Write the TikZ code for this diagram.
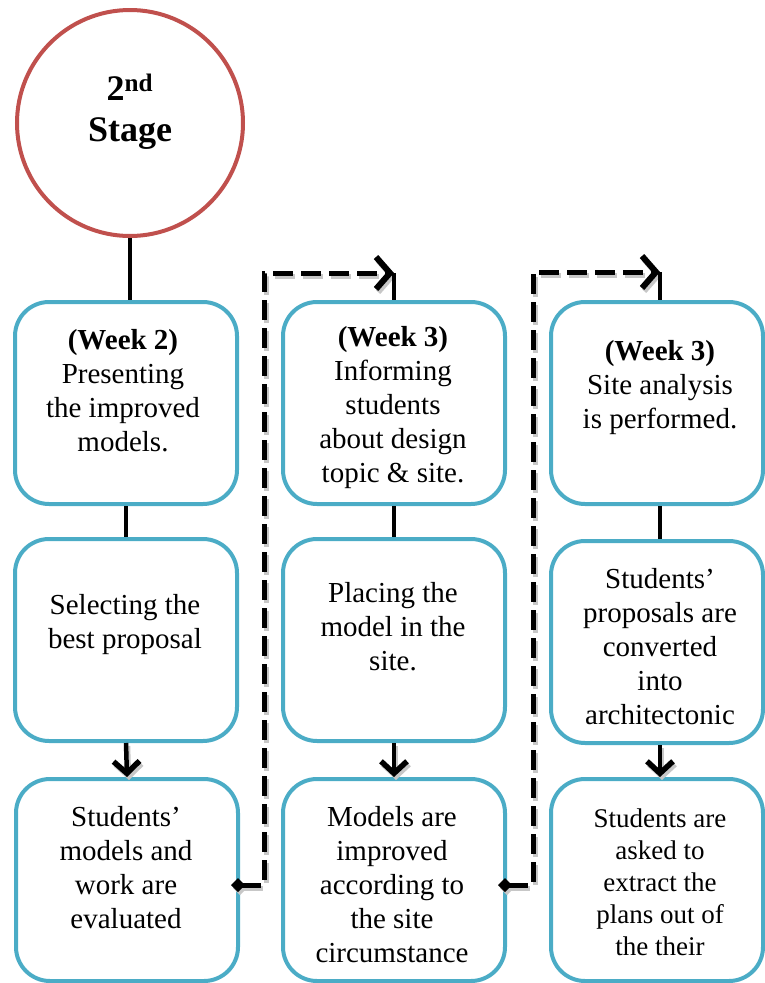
\documentclass[tikz,border=0pt]{standalone}
\usepackage{fontspec}
\setmainfont{Liberation Serif}
\usetikzlibrary{arrows.meta}
\definecolor{boxblue}{HTML}{4BACC6}
\definecolor{stagered}{HTML}{C0504D}

\begin{document}
\begin{tikzpicture}[x=1pt,y=-1pt,
    stage/.style={circle,draw=stagered,line width=4pt,minimum size=226pt,inner sep=0pt},
    task/.style={draw=boxblue,line width=4pt,rounded corners=34pt,
      minimum width=222pt,minimum height=202pt,inner sep=0pt},
    txt/.style={align=center,inner sep=0pt,font=\fontsize{29}{34}\selectfont},
    link/.style={line width=4.5pt},
    down/.style={link,-{Straight Barb[length=12pt,width=26pt,line width=5.5pt]}},
    jump/.style={line width=5pt,dash pattern=on 20pt off 8pt,
      {Diamond[length=14pt,width=14pt]}-{Straight Barb[length=14pt,width=32pt,line width=6pt]}}]
  \useasboundingbox (0,0) rectangle (764,983);

  % stage circle
  \node[stage] (stage) at (130,123) {};
  \node[txt,font=\fontsize{36}{41}\selectfont\bfseries] (stagetxt) at (130,112) {2\textsuperscript{nd}\\Stage};

  % first column
  \node[task] (b11) at (126,403) {};
  \node[task] (b12) at (126,640) {};
  \node[task] (b13) at (127,880) {};
  \node[txt] (t11) at (123,391) {\textbf{(Week 2)}\\Presenting\\the improved\\models.};
  \node[txt] (t12) at (125,625) {Selecting the\\best proposal};
  \node[txt] (t13) at (126,868) {Students’\\models and\\work are\\evaluated};

  % second column
  \node[task] (b21) at (394,403) {};
  \node[task] (b22) at (394,640) {};
  \node[task] (b23) at (394,880) {};
  \node[txt] (t21) at (393,408) {\textbf{(Week 3)}\\Informing\\students\\about design\\topic \& site.};
  \node[txt] (t22) at (393,627) {Placing the\\model in the\\site.};
  \node[txt] (t23) at (392,885) {Models are\\improved\\according to\\the site\\circumstance};

  % third column
  \node[task,minimum width=212pt] (b31) at (657,403) {};
  \node[task,minimum width=212pt] (b32) at (657,642) {};
  \node[task,minimum width=212pt] (b33) at (657,880) {};
  \node[txt] (t31) at (660,388) {\textbf{(Week 3)}\\Site analysis\\is performed.};
  \node[txt] (t32) at (660,647) {Students’\\proposals are\\converted\\into\\architectonic};
  \node[txt,font=\fontsize{27}{32}\selectfont] (t33) at (660,882) {Students are\\asked to\\extract the\\plans out of\\the their};

  % links down each column
  \draw[link] (stage.south) -- (stage.south |- b11.north);
  \draw[link] (b11.south) -- (b12.north);
  \draw[link] (b21.south) -- (b22.north);
  \draw[link] ([xshift=3pt]b31.south) -- ([xshift=3pt]b32.north);

  % jumps to the next week, grey copy first as shadow
  \coordinate (k1) at (264,273);
  \coordinate (k2) at (b21.north |- k1);
  \coordinate (k3) at (533,272);
  \coordinate (k4) at (660,272);
  \foreach \col/\off in {black!22/2pt,black/0pt} {
    \begin{scope}[transform canvas={shift={(\off,-1.5*\off)}},draw=\col]
      \draw[down] (b12.south) -- (b13.north);
      \draw[down] (b22.south) -- (b23.north);
      \draw[down] ([xshift=3pt]b32.south) -- ([xshift=3pt]b33.north);
      \draw[jump] ([xshift=-9pt,yshift=-5pt]b13.east) -| (k1) -- (k2);
      \draw[jump] ([xshift=-9pt,yshift=-5pt]b23.east) -| (k3) -- (k4);
    \end{scope}
  }
  \draw[link] (k2) -- (b21.north);
  \draw[link] (k4) -- (k4 |- b31.north);
\end{tikzpicture}
\end{document}
